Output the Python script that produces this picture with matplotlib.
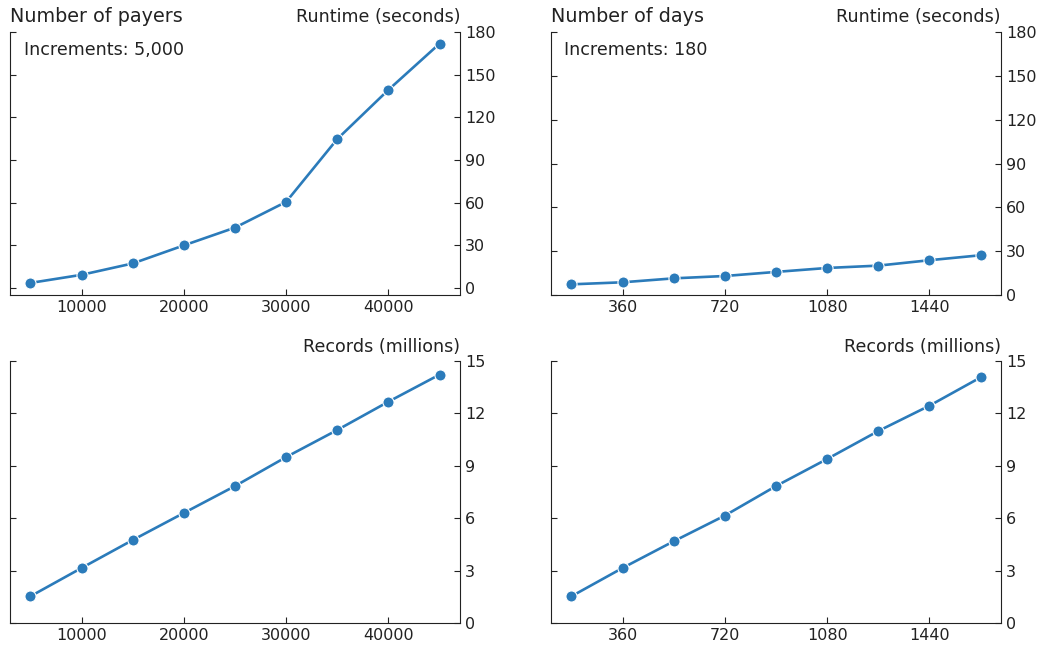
import matplotlib
matplotlib.use("Agg")
import matplotlib.pyplot as plt

# data
payers = [5000, 10000, 15000, 20000, 25000, 30000, 35000, 40000, 45000]
payers_runtime = [3.5, 9.2, 17.2, 29.9, 42.4, 60.5, 104.7, 139.3, 171.8]
payers_records = [1.53, 3.15, 4.75, 6.30, 7.84, 9.50, 11.05, 12.67, 14.22]

days = [180, 360, 540, 720, 900, 1080, 1260, 1440, 1620]
days_runtime = [7.3, 8.7, 11.4, 13.0, 15.8, 18.5, 20.1, 23.8, 27.2]
days_records = [1.53, 3.15, 4.68, 6.15, 7.84, 9.39, 10.99, 12.44, 14.06]

payer_ticks = [10000, 20000, 30000, 40000]
day_ticks = [360, 720, 1080, 1440]
runtime_ticks = [0, 30, 60, 90, 120, 150, 180]
records_ticks = [0, 3, 6, 9, 12, 15]

color = "#2b7bba"
ink = "#222222"

fig = plt.figure(figsize=(10.42, 6.55), dpi=100)
W, H = 1042, 655

def make_ax(left, right, top, bottom):
    return fig.add_axes([left / W, 1 - bottom / H, (right - left) / W, (bottom - top) / H])

ax1 = make_ax(10, 460, 32, 295)
ax2 = make_ax(551, 1001, 32, 295)
ax3 = make_ax(10, 460, 361, 623)
ax4 = make_ax(551, 1001, 361, 623)

def style(ax, x, y, xticks, yticks, ylab):
    ax.plot(x, y, color=color, lw=1.9, marker="o", ms=8,
            markeredgecolor="white", markeredgewidth=0.8)
    ax.spines["top"].set_visible(False)
    for s in ax.spines.values():
        s.set_color(ink)
    ax.set_xticks(xticks)
    ax.set_yticks(yticks)
    ax.tick_params(direction="in", labelsize=11.5, colors=ink, length=4.5)
    ax.tick_params(axis="y", left=True, right=True, labelleft=False, labelright=True)
    ax.set_title(ylab, loc="right", fontsize=12.6, pad=6.5, color=ink)

style(ax1, payers, payers_runtime, payer_ticks, runtime_ticks, "Runtime (seconds)")
ax1.set_ylim(-5, 180)
ax1.set_title("Number of payers", loc="left", fontsize=13.8, pad=7, color=ink)
ax1.text(0.03, 0.965, "Increments: 5,000", transform=ax1.transAxes,
         ha="left", va="top", fontsize=12.6, color=ink)

style(ax2, days, days_runtime, day_ticks, runtime_ticks, "Runtime (seconds)")
ax2.set_ylim(0, 180)
ax2.set_title("Number of days", loc="left", fontsize=13.8, pad=7, color=ink)
ax2.text(0.03, 0.965, "Increments: 180", transform=ax2.transAxes,
         ha="left", va="top", fontsize=12.6, color=ink)

style(ax3, payers, payers_records, payer_ticks, records_ticks, "Records (millions)")
ax3.set_ylim(0, 15)

style(ax4, days, days_records, day_ticks, records_ticks, "Records (millions)")
ax4.set_ylim(0, 15)

fig.savefig("out.png", dpi=100)
